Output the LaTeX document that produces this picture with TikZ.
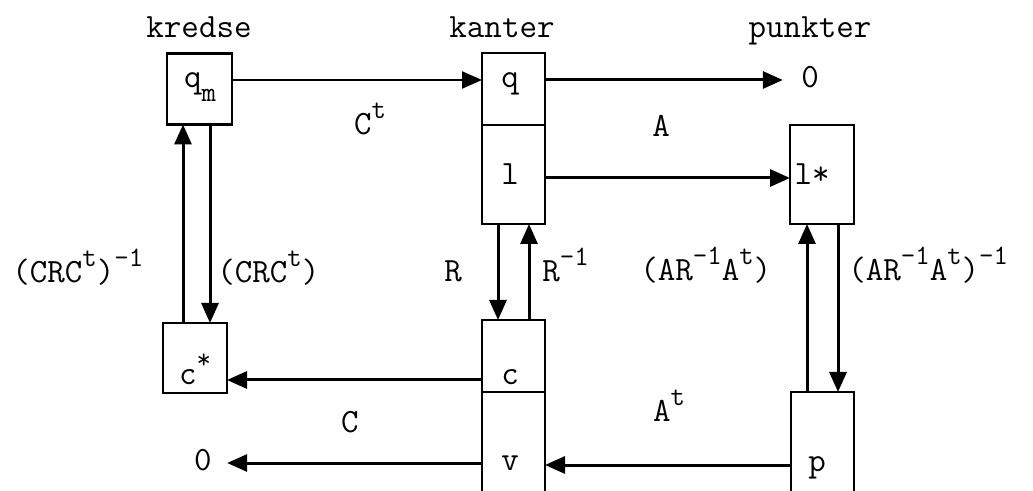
\documentclass[tikz,border=0pt]{standalone}
\usetikzlibrary{arrows.meta,calc}
\newcommand\sps[1]{\raisebox{8pt}{\fontsize{14}{14}\selectfont #1}}
\newcommand\sbs[1]{\raisebox{-7pt}{\fontsize{14}{14}\selectfont #1}}
\begin{document}
\begin{tikzpicture}[x=0.5pt,y=-0.5pt,
  boxnode/.style={draw,line width=1.2pt,inner sep=0pt,outer sep=0pt},
  openbox/.style={inner sep=0pt,outer sep=0pt,minimum width=31.5pt,minimum height=49.5pt},
  lab/.style={inner sep=0pt,font=\ttfamily\fontsize{17}{20}\selectfont},
  arr/.style={line width=1.5pt,-{Triangle[length=10pt,width=8.5pt]}},
  thinarr/.style={line width=1.1pt,-{Triangle[length=10pt,width=8.5pt]}}]
\useasboundingbox (0,0) rectangle (1033,491);
% boxes
\node[boxnode,minimum width=32.5pt,minimum height=35.5pt] (qm) at (199.5,89) {};
\node[boxnode,minimum width=31.5pt,minimum height=36pt] (q) at (513.5,89) {};
\node[boxnode,minimum width=31.5pt,minimum height=49.5pt] (l) at (513.5,174.5) {};
\node[boxnode,minimum width=32pt,minimum height=49.5pt] (lstar) at (822,174.5) {};
\node[boxnode,minimum width=32pt,minimum height=35pt] (cstar) at (195,358) {};
\node[boxnode,minimum width=31.5pt,minimum height=36pt] (c) at (513.5,356) {};
\node[openbox] (v) at (513.5,441.5) {};
\node[openbox] (p) at (822.5,441.5) {};
\draw[line width=1.2pt] (v.south west) -- (v.north west) -- (v.north east) -- (v.south east);
\draw[line width=1.2pt] (p.south west) -- (p.north west) -- (p.north east) -- (p.south east);
% headings
\node[lab,anchor=base] (hkredse) at (199,38) {kredse};
\node[lab,anchor=base] (hkanter) at (502,38) {kanter};
\node[lab,anchor=base] (hpunkter) at (810,38) {punkter};
% box texts
\node[lab,anchor=base] (tqm) at (200,88) {q\sbs{m}};
\node[lab,anchor=base] (tq) at (510,88) {q};
\node[lab,anchor=base] (tl) at (510,185) {l};
\node[lab,anchor=base] (tlstar) at (812,185) {l*};
\node[lab,anchor=base] (tcstar) at (195,385) {c\sps{*}};
\node[lab,anchor=base] (tc) at (510,385) {c};
\node[lab,anchor=base] (tv) at (510,470) {v};
\node[lab,anchor=base] (tp) at (817,472) {p};
\node[lab,anchor=base] (zero1) at (810,88) {0};
\node[lab,anchor=base] (zero2) at (203,470) {0};
% arrow labels
\node[lab,anchor=base] (lct) at (370,135) {C\sps{t}};
\node[lab,anchor=base] (lA) at (661,137) {A};
\node[lab,anchor=base west] (lcrcinv) at (12,283) {(CRC\sps{t})\sps{-1}};
\node[lab,anchor=base west] (lcrc) at (217,283) {(CRC\sps{t})};
\node[lab,anchor=base] (lR) at (453,282) {R};
\node[lab,anchor=base west] (lRinv) at (542,282) {R\sps{-1}};
\node[lab,anchor=base west] (lar) at (640,281) {(AR\sps{-1}A\sps{t})};
\node[lab,anchor=base west] (larinv) at (848,281) {(AR\sps{-1}A\sps{t})\sps{-1}};
\node[lab,anchor=base] (lC) at (350,432) {C};
\node[lab,anchor=base] (lAt) at (669,422) {A\sps{t}};
% connectors
\draw[thinarr] ($(qm.east)+(0,-9)$) -- ($(q.west)+(0,-9)$);
\draw[arr,shorten >=9pt] ($(q.east)+(0,-9)$) coordinate (qa) -- (qa -| zero1.west);
\draw[arr] ($(l.east)+(0,3.5)$) -- ($(lstar.west)+(0,3.5)$);
\draw[arr] ($(l.south)+(-15.5,0)$) -- ($(c.north)+(-15.5,0)$);
\draw[arr] ($(c.north)+(15.5,0)$) -- ($(l.south)+(15.5,0)$);
\draw[arr] ($(cstar.north)+(-12,0)$) -- ($(qm.south)+(-16.5,0)$);
\draw[arr] ($(qm.south)+(10.5,0)$) -- ($(cstar.north)+(15,0)$);
\draw[arr] ($(c.west)+(0,24)$) -- ($(cstar.east)+(0,22)$);
\draw[arr,shorten >=7.5pt] ($(v.west)+(0,21.5)$) coordinate (va) -- (va -| zero2.east);
\draw[arr] ($(p.west)+(0,23.5)$) coordinate (pa) -- (pa -| v.east);
\draw[arr] ($(p.north)+(-15.5,0)$) -- ($(lstar.south)+(-15,0)$);
\draw[arr] ($(lstar.south)+(16,0)$) -- ($(p.north)+(15.5,0)$);
\end{tikzpicture}
\end{document}
